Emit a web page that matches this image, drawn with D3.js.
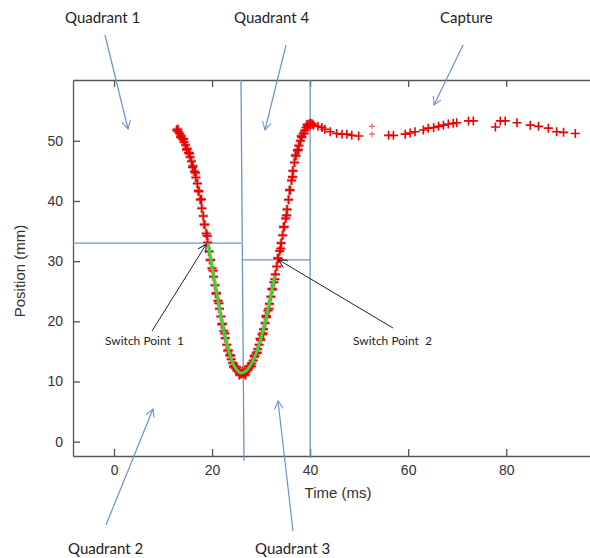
<!DOCTYPE html>
<html>
<head>
<meta charset="utf-8">
<script src="https://cdn.jsdelivr.net/npm/d3@7"></script>
<style>
  body { margin: 0; background: #fff; }
  svg { display: block; }
</style>
</head>
<body>
<div id="chart"></div>
<script>
// time (ms) / position (mm)
var dipTime = [12.8, 13.1, 13.4, 13.7, 14.0, 14.3, 14.6, 14.9, 15.2, 15.5, 15.8, 16.1, 16.4, 16.7, 17.0, 17.3, 17.6, 17.9, 18.2, 18.5, 18.8, 19.1, 19.4, 19.7, 20.0, 20.3, 20.6, 20.9, 21.2, 21.5, 21.8, 22.1, 22.4, 22.7, 23.0, 23.3, 23.6, 23.9, 24.2, 24.5, 24.8, 25.1, 25.4, 25.7, 26.0, 26.3,
  26.6, 26.9, 27.2, 27.5, 27.8, 28.1, 28.4, 28.7, 29.0, 29.3, 29.6, 29.9, 30.2, 30.5, 30.8, 31.1, 31.4, 31.7, 32.0, 32.3, 32.6, 32.9, 33.2, 33.5, 33.8, 34.1, 34.4, 34.7, 35.0, 35.3, 35.6, 35.9, 36.2, 36.5, 36.8, 37.1, 37.4, 37.7, 38.0, 38.3, 38.6, 38.9, 39.2, 39.5, 39.8, 40.1, 40.4]
var dipPos = [51.8, 51.5, 51.2, 50.8, 50.3, 49.8, 49.3, 48.7, 48.0, 47.3, 46.6, 45.8, 44.9, 43.9, 42.9, 41.6, 40.2, 38.8, 37.5, 36.1, 34.6, 33.1, 31.6, 30.2, 28.8, 27.4, 26.0, 24.7, 23.4, 22.1, 20.8, 19.6, 18.4, 17.2, 16.1, 15.2, 14.4, 13.7, 13.1, 12.6, 12.2, 11.9, 11.6, 11.4, 11.3, 11.3,
  11.4, 11.6, 11.9, 12.2, 12.6, 13.0, 13.5, 14.1, 14.7, 15.4, 16.1, 16.9, 17.8, 18.7, 19.7, 20.7, 21.8, 22.9, 24.1, 25.3, 26.5, 27.8, 29.1, 30.4, 31.7, 33.0, 34.3, 35.7, 37.1, 38.6, 40.2, 41.8, 43.4, 45.0, 46.4, 47.5, 48.4, 49.2, 50.0, 50.6, 51.2, 51.7, 52.2, 52.5, 52.8, 52.9, 52.8]

// second, scattered pass over the same dip (the band is several samples thick)
var dip2Time = [13.0, 13.6, 14.2, 14.8, 15.4, 16.0, 16.6, 17.2, 17.8, 18.4, 19.0, 19.6, 20.2, 20.8, 21.4, 22.0, 22.6, 23.2, 23.8, 24.4, 25.0, 25.6, 26.2, 26.8, 27.4, 28.0, 28.6, 29.2, 29.8, 30.4, 31.0, 31.6, 32.2, 32.8, 33.4, 34.0, 34.6, 35.2, 35.8, 36.4, 37.0, 37.6, 38.2, 38.8, 39.4, 40.0]
var dip2Pos = [51.9, 50.6, 50.3, 48.5, 47.9, 45.6, 44.7, 41.7, 40.3, 36.1, 34.2, 30.2, 28.4, 24.6, 23.0, 19.5, 18.0, 15.1, 14.3, 12.4, 12.4, 11.1, 11.7, 11.1, 12.5, 12.5, 14.3, 14.8, 17.1, 18.0, 20.9, 22.1, 25.4, 27.0, 30.5, 32.1, 35.7, 37.6, 41.8, 44.0, 47.6, 48.5, 50.8, 51.2, 52.7, 52.6]

var captureTime = [40.7, 41.6, 42.4, 43.0, 44.1, 45.4, 46.5, 47.5, 48.5, 49.9, 56.0, 57.0, 59.4, 60.4, 61.4, 63.1, 64.1, 65.2, 66.2, 67.2, 68.2, 69.2, 69.9, 72.3, 73.3, 77.8, 78.8, 79.8, 82.2, 84.9, 86.6, 88.6, 90.3, 91.7, 94.1]
var capturePos = [52.6, 52.4, 52.2, 51.9, 51.5, 51.2, 51.1, 51.1, 50.9, 50.8, 50.9, 50.9, 51.1, 51.3, 51.5, 51.8, 52.1, 52.2, 52.4, 52.6, 52.8, 52.9, 53.0, 53.3, 53.3, 52.3, 53.3, 53.3, 53.0, 52.6, 52.4, 52.1, 51.5, 51.4, 51.2]

// two faint lone samples in the capture phase
var strayTime = [52.6, 52.6]
var strayPos = [51.1, 52.4]

// green trace between the two switch points
var fitTime = [19.2, 20.0, 21.0, 22.0, 23.0, 24.0, 25.0, 26.0, 27.0, 28.0, 29.0, 30.0, 31.0, 32.0, 32.8]
var fitPos = [33.0, 29.0, 24.5, 20.0, 16.3, 13.5, 12.0, 11.4, 11.8, 12.9, 14.7, 17.3, 20.5, 24.3, 27.6]

var xTicks = [0, 20, 40, 60, 80]
var yTicks = [0, 10, 20, 30, 40, 50]

// quadrant boundaries (ms / mm)
var switchTime = [25.9, 40]
var switchPos = [33.0, 30.2]

var width = 590
var height = 558
var blue = '#6b93cc'

var svg = d3.select('#chart').append('svg')
  .attr('width', width)
  .attr('height', height)

svg.append('rect').attr('width', width).attr('height', height).attr('fill', '#fff')

var x = d3.scaleLinear().domain([-8.37, 97.3]).range([73, 591])
var y = d3.scaleLinear().domain([-2.38, 60.1]).range([456, 80])

// arrow heads
var defs = svg.append('defs')
function addMarker(id, color) {
  defs.append('marker')
    .attr('id', id)
    .attr('viewBox', '0 0 10 10')
    .attr('refX', 9)
    .attr('refY', 5)
    .attr('markerWidth', 9)
    .attr('markerHeight', 9)
    .attr('markerUnits', 'userSpaceOnUse')
    .attr('orient', 'auto')
    .append('path')
    .attr('d', 'M0,0 L9,5 L0,10')
    .attr('fill', 'none')
    .attr('stroke', color)
    .attr('stroke-width', 1.2)
}
addMarker('arrBlue', blue)
addMarker('arrBlack', '#222')

// axes
var axisStyle = function(g) {
  g.selectAll('.domain').attr('stroke', '#555').attr('stroke-width', 1.3)
  g.selectAll('.tick line').attr('stroke', '#555').attr('stroke-width', 1.3)
  g.selectAll('.tick text')
    .attr('fill', '#333')
    .style('font-family', '"Liberation Sans", Arial, sans-serif')
    .style('font-size', '14px')
}

svg.append('g')
  .attr('transform', 'translate(0,456)')
  .call(d3.axisBottom(x).tickValues(xTicks).tickSizeInner(-7).tickSizeOuter(0).tickPadding(9))
  .call(axisStyle)

svg.append('g')
  .attr('transform', 'translate(0,80)')
  .call(d3.axisTop(x).tickValues(xTicks).tickSizeInner(-7).tickSizeOuter(0).tickFormat(''))
  .call(axisStyle)

svg.append('g')
  .attr('transform', 'translate(73,0)')
  .call(d3.axisLeft(y).tickValues(yTicks).tickSizeInner(-7).tickSizeOuter(0).tickPadding(10))
  .call(axisStyle)

svg.append('text')
  .attr('x', 338).attr('y', 498)
  .attr('text-anchor', 'middle')
  .attr('fill', '#333')
  .style('font-family', '"Liberation Sans", Arial, sans-serif')
  .style('font-size', '15px')
  .text('Time (ms)')

svg.append('text')
  .attr('transform', 'translate(25,271) rotate(-90)')
  .attr('text-anchor', 'middle')
  .attr('fill', '#333')
  .style('font-family', '"Liberation Sans", Arial, sans-serif')
  .style('font-size', '15px')
  .text('Position (mm)')

// quadrant guide lines
var guides = svg.append('g').attr('stroke', blue).attr('stroke-width', 1.3).attr('fill', 'none')
guides.append('line')
  .attr('x1', x(switchTime[0])).attr('y1', 80)
  .attr('x2', x(switchTime[0]) + 3).attr('y2', 461)
guides.append('line')
  .attr('x1', x(switchTime[1])).attr('y1', 80)
  .attr('x2', x(switchTime[1])).attr('y2', 458)
guides.append('line')
  .attr('x1', 73).attr('y1', y(switchPos[0]))
  .attr('x2', x(switchTime[0])).attr('y2', y(switchPos[0]))
guides.append('line')
  .attr('x1', x(switchTime[0]) + 2).attr('y1', y(switchPos[1]))
  .attr('x2', x(switchTime[1])).attr('y2', y(switchPos[1]))

// data points
function pairs(a, b) { return a.map(function(t, i) { return [t, b[i]] }) }
var dip = pairs(dipTime, dipPos).concat(pairs(dip2Time, dip2Pos))
var capture = pairs(captureTime, capturePos)
var stray = pairs(strayTime, strayPos)
var fit = pairs(fitTime, fitPos)

var plus = 'M-4.5,0H4.5M0,-4.5V4.5'
var place = function(d) { return 'translate(' + x(d[0]) + ',' + y(d[1]) + ')' }

svg.append('g').selectAll('path')
  .data(dip)
  .enter().append('path')
  .attr('transform', place)
  .attr('d', plus)
  .attr('stroke', '#dcb0b0')
  .attr('stroke-width', 3.5)
  .attr('fill', 'none')

svg.append('g').selectAll('path')
  .data(dip.concat(capture))
  .enter().append('path')
  .attr('transform', place)
  .attr('d', plus)
  .attr('stroke', '#ee0000')
  .attr('stroke-width', 1.6)
  .attr('fill', 'none')

svg.append('g').selectAll('path')
  .data(stray)
  .enter().append('path')
  .attr('transform', place)
  .attr('d', 'M-3,0H3M0,-3V3')
  .attr('stroke', '#f06060')
  .attr('stroke-width', 1.1)
  .attr('fill', 'none')

svg.append('path')
  .datum(fit)
  .attr('d', d3.line().x(function(d) { return x(d[0]) }).y(function(d) { return y(d[1]) }).curve(d3.curveMonotoneX))
  .attr('fill', 'none')
  .attr('stroke', '#3fd43a')
  .attr('stroke-width', 3)

// callouts
var calloutFont = 'Lato, "Open Sans", sans-serif'
var labels = [
  { text: 'Quadrant 1', x: 65, y: 23, size: 15 },
  { text: 'Quadrant 4', x: 234, y: 23, size: 15 },
  { text: 'Capture', x: 440, y: 23, size: 15 },
  { text: 'Quadrant 2', x: 68, y: 554, size: 15 },
  { text: 'Quadrant 3', x: 255, y: 554, size: 15 },
  { text: 'Switch Point  1', x: 105, y: 345, size: 12 },
  { text: 'Switch Point  2', x: 353, y: 345, size: 12 }
]
svg.append('g').selectAll('text')
  .data(labels)
  .enter().append('text')
  .attr('x', function(d) { return d.x })
  .attr('y', function(d) { return d.y })
  .attr('fill', '#1e1e1e')
  .style('font-family', calloutFont)
  .style('font-size', function(d) { return d.size + 'px' })
  .style('white-space', 'pre')
  .text(function(d) { return d.text })

var arrows = [
  [105, 35, 128, 129, 'arrBlue'],
  [286, 45, 265, 130, 'arrBlue'],
  [463, 45, 434, 105, 'arrBlue'],
  [106, 525, 153, 409, 'arrBlue'],
  [293, 531, 278, 401, 'arrBlue'],
  [152, 331, x(18.8), y(32.8), 'arrBlack'],
  [393, 328, x(33.6), y(30.2), 'arrBlack']
]
svg.append('g').selectAll('line')
  .data(arrows)
  .enter().append('line')
  .attr('x1', function(d) { return d[0] })
  .attr('y1', function(d) { return d[1] })
  .attr('x2', function(d) { return d[2] })
  .attr('y2', function(d) { return d[3] })
  .attr('stroke', function(d) { return d[4] === 'arrBlue' ? blue : '#222' })
  .attr('stroke-width', function(d) { return d[4] === 'arrBlue' ? 1.2 : 1 })
  .attr('marker-end', function(d) { return 'url(#' + d[4] + ')' })
</script>
</body>
</html>
